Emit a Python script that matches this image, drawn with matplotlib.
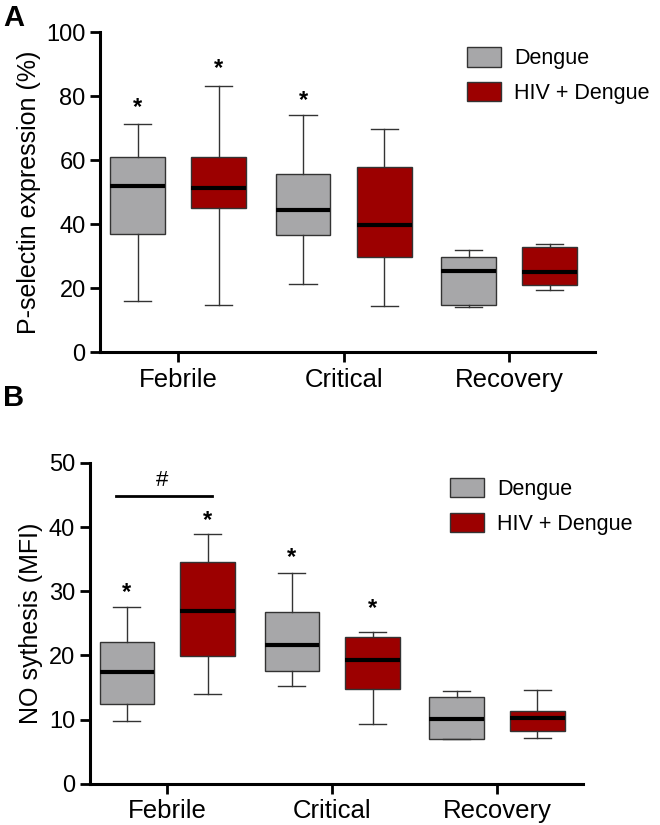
import matplotlib
matplotlib.use('Agg')
import matplotlib.pyplot as plt
from matplotlib.patches import Patch

plt.rcParams['font.family'] = ['Liberation Sans', 'DejaVu Sans']

phases = ['Febrile', 'Critical', 'Recovery']
groups = ['Dengue', 'HIV + Dengue']
colors = ['#a7a7a9', '#9c0000']

# five-number summaries: whislo, q1, med, q3, whishi
psel_dengue = [[16.1, 37.1, 51.8, 60.9, 71.4],
               [21.2, 36.5, 44.6, 55.6, 74.1],
               [14.1, 14.7, 25.4, 29.7, 31.8]]
psel_hiv = [[14.8, 45.1, 51.3, 61.1, 83.1],
            [14.6, 29.7, 39.9, 58.0, 69.7],
            [19.6, 20.9, 25.2, 33.0, 33.8]]
no_dengue = [[9.7, 12.4, 17.4, 22.1, 27.6],
             [15.3, 17.5, 21.6, 26.8, 32.8],
             [7.0, 7.0, 10.1, 13.5, 14.4]]
no_hiv = [[14.0, 19.9, 26.9, 34.6, 38.9],
          [9.3, 14.8, 19.3, 22.8, 23.6],
          [7.2, 8.2, 10.2, 11.3, 14.6]]

# significance stars (group index, phase index, y)
psel_stars = [(0, 0, 76.5), (1, 0, 88.5), (0, 1, 78.5)]
no_stars = [(0, 0, 29.8), (1, 0, 41.0), (0, 1, 35.3), (1, 1, 27.3)]

fig = plt.figure(figsize=(6.6, 8.25), dpi=100)
axA = fig.add_axes([0.152, 0.573, 0.750, 0.388])
axB = fig.add_axes([0.136, 0.050, 0.747, 0.389])

offset = 0.245
width = 0.33


def draw_panel(ax, dengue, hiv, stars, ymax, ystep, ylabel, leg_x):
    for g, data in enumerate([dengue, hiv]):
        stats = []
        for s in data:
            stats.append(dict(whislo=s[0], q1=s[1], med=s[2], q3=s[3], whishi=s[4], fliers=[]))
        pos = [i + (2 * g - 1) * offset for i in range(len(phases))]
        ax.bxp(stats, positions=pos, widths=width, patch_artist=True,
               showfliers=False, manage_ticks=False,
               boxprops=dict(facecolor=colors[g], edgecolor='#333333', linewidth=1.0),
               medianprops=dict(color='black', linewidth=3),
               whiskerprops=dict(color='#333333', linewidth=1.0),
               capprops=dict(color='#333333', linewidth=1.0),
               capwidths=width * 0.5)
    for g, p, y in stars:
        ax.text(p + (2 * g - 1) * offset, y, '*', ha='center', va='center',
                fontsize=17, fontweight='bold')
    ax.set_xlim(-0.47, 2.52)
    ax.set_ylim(0, ymax)
    ax.set_yticks(range(0, ymax + 1, ystep))
    ax.set_xticks(range(len(phases)))
    ax.set_xticklabels(phases, fontsize=18.5)
    ax.tick_params(axis='y', labelsize=17, width=2, length=7)
    ax.tick_params(axis='x', width=2, length=7, pad=4)
    for side in ['top', 'right']:
        ax.spines[side].set_visible(False)
    for side in ['left', 'bottom']:
        ax.spines[side].set_linewidth(2.2)
    ax.set_ylabel(ylabel, fontsize=18, labelpad=4)
    handles = [Patch(facecolor=colors[i], edgecolor='#333333', label=groups[i]) for i in range(2)]
    ax.legend(handles=handles, loc='upper left', bbox_to_anchor=(leg_x, 1.0), frameon=False,
              fontsize=15.5, handlelength=1.6, handleheight=1.0, handletextpad=0.6,
              labelspacing=0.6, borderaxespad=0.3)


draw_panel(axA, psel_dengue, psel_hiv, psel_stars, 100, 20, 'P-selectin expression (%)', 0.71)
draw_panel(axB, no_dengue, no_hiv, no_stars, 50, 10, 'NO sythesis (MFI)', 0.70)

# bracket in panel B
axB.plot([-0.31, 0.27], [44.8, 44.8], color='black', linewidth=2)
axB.text(-0.03, 47.3, '#', ha='center', va='center', fontsize=16)

fig.text(0.005, 0.995, 'A', fontsize=21, fontweight='bold', va='top')
fig.text(0.005, 0.535, 'B', fontsize=21, fontweight='bold', va='top')

fig.savefig('out.png', dpi=100)
